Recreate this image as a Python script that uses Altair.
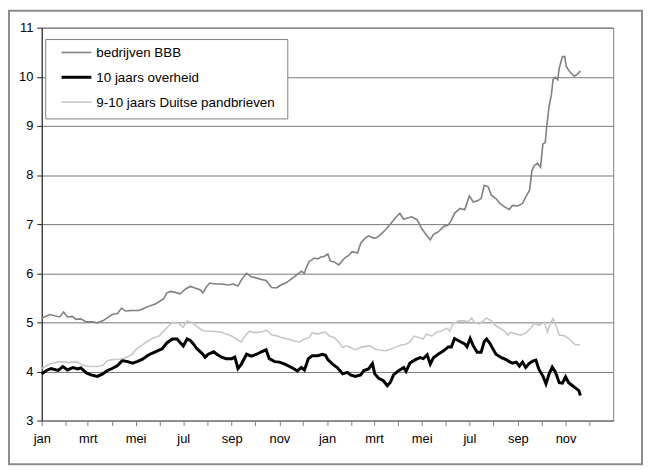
import altair as alt
import pandas as pd

SERIES = ["bedrijven BBB", "10 jaars overheid", "9-10 jaars Duitse pandbrieven"]
COLORS = ["#808080", "#000000", "#c8c8c8"]
WIDTHS = [1.6, 3.0, 1.6]
MONTHS_NL = ["jan", "feb", "mrt", "apr", "mei", "jun", "jul", "aug", "sep", "okt", "nov", "dec"]
START = "2007-01-01"

# days since 1 Jan 2007 and yield (%) per series
bbb_days = [0, 10, 23, 28, 33, 39, 44, 50, 57, 65, 71, 78, 84, 90, 97, 102, 107, 116, 124, 129,
            133, 139, 146, 152, 156, 160, 165, 171, 177, 184, 190, 196, 203, 206, 211, 215, 222, 230,
            239, 245, 251, 256, 262, 268, 275, 281, 287, 294, 300, 306, 313, 319, 325, 332, 336, 338,
            342, 349, 353, 357, 361, 366, 369, 374, 380, 387, 393, 397, 404, 408, 414, 418, 425, 429,
            433, 440, 446, 452, 458, 463, 467, 473, 480, 486, 492, 497, 501, 507, 514, 520, 524, 528,
            535, 541, 547, 552, 558, 562, 566, 571, 575, 581, 586, 592, 598, 602, 609, 615, 619, 624,
            627, 630, 634, 638, 641, 644, 646, 649, 652, 654, 657, 660, 662, 666, 669, 671, 675, 681,
            685, 689]
bbb_vals = [5.08, 5.16, 5.11, 5.21, 5.11, 5.12, 5.06, 5.07, 5.01, 5.01, 4.99, 5.03, 5.09, 5.16, 5.18,
            5.29, 5.23, 5.24, 5.24, 5.27, 5.30, 5.34, 5.38, 5.44, 5.48, 5.60, 5.63, 5.61, 5.58, 5.68,
            5.73, 5.70, 5.66, 5.60, 5.73, 5.80, 5.78, 5.78, 5.76, 5.78, 5.74, 5.88, 6.00, 5.93, 5.90,
            5.87, 5.85, 5.71, 5.70, 5.76, 5.81, 5.88, 5.95, 6.04, 6.00, 6.10, 6.24, 6.31, 6.29, 6.33,
            6.34, 6.39, 6.25, 6.23, 6.17, 6.30, 6.37, 6.44, 6.41, 6.61, 6.72, 6.76, 6.71, 6.73, 6.78,
            6.89, 7.00, 7.12, 7.22, 7.10, 7.12, 7.15, 7.09, 6.91, 6.78, 6.68, 6.79, 6.84, 6.95, 6.98,
            7.08, 7.22, 7.32, 7.29, 7.57, 7.45, 7.48, 7.52, 7.79, 7.76, 7.59, 7.52, 7.42, 7.35, 7.30,
            7.38, 7.37, 7.42, 7.55, 7.69, 8.09, 8.19, 8.24, 8.16, 8.63, 8.66, 9.00, 9.40, 9.64, 9.94,
            9.99, 9.94, 10.18, 10.41, 10.41, 10.21, 10.11, 10.01, 10.05, 10.12]

gov_days = [0, 6, 12, 21, 27, 33, 40, 46, 50, 57, 63, 71, 78, 84, 90, 97, 103, 110, 116, 122, 129,
            135, 141, 148, 154, 160, 167, 173, 177, 181, 186, 190, 194, 198, 205, 209, 213, 220, 224,
            230, 236, 243, 247, 251, 255, 262, 268, 275, 281, 287, 291, 298, 304, 311, 317, 323, 327,
            332, 336, 341, 346, 353, 359, 363, 366, 372, 378, 385, 391, 395, 401, 408, 412, 418, 423,
            426, 431, 437, 442, 446, 450, 456, 463, 466, 471, 478, 484, 488, 493, 497, 501, 507, 514,
            520, 524, 528, 535, 541, 544, 548, 552, 557, 562, 566, 569, 573, 577, 581, 588, 594, 598,
            602, 607, 611, 615, 619, 624, 628, 632, 636, 641, 645, 649, 653, 657, 662, 666, 670, 674,
            679, 683, 687, 689]
gov_vals = [3.95, 4.02, 4.06, 4.02, 4.10, 4.03, 4.08, 4.05, 4.07, 3.97, 3.93, 3.90, 3.95, 4.02, 4.06,
            4.12, 4.22, 4.20, 4.17, 4.20, 4.25, 4.32, 4.37, 4.42, 4.46, 4.58, 4.66, 4.66, 4.59, 4.52,
            4.66, 4.63, 4.56, 4.47, 4.37, 4.29, 4.35, 4.40, 4.35, 4.29, 4.26, 4.26, 4.29, 4.06, 4.14,
            4.35, 4.31, 4.35, 4.40, 4.44, 4.26, 4.20, 4.19, 4.15, 4.10, 4.05, 4.01, 4.08, 4.03, 4.26,
            4.32, 4.32, 4.35, 4.33, 4.24, 4.15, 4.08, 3.95, 3.98, 3.93, 3.90, 3.93, 4.02, 4.05, 4.16,
            3.95, 3.86, 3.81, 3.71, 3.78, 3.93, 4.01, 4.08, 4.00, 4.17, 4.24, 4.28, 4.26, 4.34, 4.15,
            4.28, 4.35, 4.42, 4.50, 4.50, 4.67, 4.61, 4.56, 4.50, 4.67, 4.52, 4.39, 4.39, 4.61, 4.66,
            4.58, 4.46, 4.35, 4.28, 4.24, 4.20, 4.17, 4.19, 4.11, 4.19, 4.08, 4.17, 4.21, 4.23, 4.04,
            3.91, 3.75, 3.95, 4.09, 3.99, 3.77, 3.76, 3.89, 3.77, 3.71, 3.66, 3.61, 3.51]

pfb_days = [0, 10, 23, 36, 44, 52, 61, 71, 78, 84, 90, 99, 107, 116, 120, 127, 133, 141, 150, 156,
            162, 167, 175, 181, 186, 188, 192, 196, 203, 209, 217, 224, 230, 236, 243, 251, 255, 262,
            266, 272, 279, 284, 288, 294, 300, 306, 315, 323, 330, 336, 342, 346, 353, 359, 363, 368,
            374, 380, 385, 389, 395, 401, 408, 414, 420, 427, 433, 440, 446, 452, 459, 465, 471, 476,
            482, 488, 492, 499, 505, 511, 518, 522, 526, 533, 541, 545, 550, 554, 560, 565, 569, 575,
            579, 586, 592, 596, 600, 607, 613, 619, 626, 630, 636, 643, 647, 651, 654, 658, 662, 668,
            674, 679, 683, 689]
pfb_vals = [4.06, 4.15, 4.20, 4.18, 4.20, 4.13, 4.10, 4.10, 4.12, 4.22, 4.24, 4.25, 4.28, 4.35, 4.44,
            4.52, 4.59, 4.67, 4.72, 4.82, 4.92, 5.00, 4.98, 4.90, 5.03, 5.01, 5.00, 4.95, 4.86, 4.82,
            4.82, 4.81, 4.80, 4.76, 4.72, 4.64, 4.60, 4.76, 4.82, 4.79, 4.80, 4.82, 4.84, 4.74, 4.73,
            4.69, 4.66, 4.62, 4.60, 4.66, 4.69, 4.79, 4.76, 4.79, 4.80, 4.72, 4.69, 4.60, 4.49, 4.52,
            4.49, 4.44, 4.49, 4.51, 4.52, 4.45, 4.43, 4.42, 4.45, 4.49, 4.54, 4.55, 4.60, 4.72, 4.69,
            4.66, 4.76, 4.72, 4.80, 4.82, 4.88, 4.82, 4.97, 5.03, 5.03, 5.01, 5.09, 4.99, 4.97, 5.03,
            5.09, 5.03, 4.95, 4.88, 4.82, 4.74, 4.80, 4.76, 4.74, 4.78, 4.89, 4.98, 4.94, 5.00, 4.80,
            5.00, 5.08, 4.93, 4.74, 4.73, 4.67, 4.59, 4.54, 4.55]

frames = []
for name, days, vals in [(SERIES[0], bbb_days, bbb_vals),
                         (SERIES[1], gov_days, gov_vals),
                         (SERIES[2], pfb_days, pfb_vals)]:
    frames.append(pd.DataFrame({
        "reeks": name,
        "datum": pd.Timestamp(START) + pd.to_timedelta(days, unit="D"),
        "rente": vals,
    }))
df = pd.concat(frames, ignore_index=True)

month_ticks = [alt.DateTime(year=y, month=m, date=1) for y in (2007, 2008) for m in range(1, 13)]
label_expr = "month(datum.value) % 2 == 0 ? " + str(MONTHS_NL) + "[month(datum.value)] : ''"

x_enc = alt.X(
    "datum:T",
    scale=alt.Scale(domain=[alt.DateTime(year=2007, month=1, date=1),
                            alt.DateTime(year=2009, month=1, date=1)], nice=False),
    axis=alt.Axis(title=None, values=month_ticks, labelExpr=label_expr, grid=False,
                  labelOverlap=False, labelFlush=False, tickSize=5, labelPadding=7,
                  domainColor="#808080", tickColor="#808080"),
)
y_enc = alt.Y(
    "rente:Q", scale=alt.Scale(domain=[3, 11], nice=False, zero=False),
    axis=alt.Axis(title=None, values=list(range(3, 12)), grid=True, gridColor="#787878",
                  tickSize=5, labelPadding=4, domainColor="#202020", tickColor="#202020"),
)

layers = []
# outer chart frame
layers.append(alt.Chart(pd.DataFrame({"k": [0]})).mark_rect(
    fillOpacity=0, stroke="#8c8c8c", strokeWidth=2
).encode(x=alt.value(-33), x2=alt.value(605), y=alt.value(-17), y2=alt.value(440)))

for name, col, w in zip(SERIES, COLORS, WIDTHS):
    layers.append(alt.Chart(df).transform_filter(alt.datum.reeks == name).mark_line(
        color=col, strokeWidth=w, interpolate="linear"
    ).encode(x=x_enc, y=y_enc))

# legend box
layers.append(alt.Chart(pd.DataFrame({"k": [0]})).mark_rect(
    fill="#ffffff", stroke="#808080", strokeWidth=1
).encode(x=alt.value(4), x2=alt.value(248), y=alt.value(12), y2=alt.value(92)))
for i, (name, col, w) in enumerate(zip(SERIES, COLORS, WIDTHS)):
    one = pd.DataFrame({"reeks": [name]})
    layers.append(alt.Chart(one).mark_rule(color=col, strokeWidth=w).encode(
        x=alt.value(20), x2=alt.value(50), y=alt.value(25 + 25 * i)))
    layers.append(alt.Chart(one).mark_text(
        align="left", baseline="middle", font="Liberation Sans", fontSize=13.5, color="#000000"
    ).encode(text="reeks:N", x=alt.value(55), y=alt.value(25.5 + 25 * i)))

chart = alt.layer(*layers).properties(
    width=576, height=396,
    padding={"left": 34, "top": 18, "right": 30, "bottom": 45},
    autosize=alt.AutoSizeParams(type="none"),
).configure_view(stroke="#808080", strokeWidth=1).configure_axis(
    labelFont="Liberation Sans", labelFontSize=13, labelColor="#000000"
)

chart.save("out.html", embed_options={"renderer": "svg", "actions": False})
